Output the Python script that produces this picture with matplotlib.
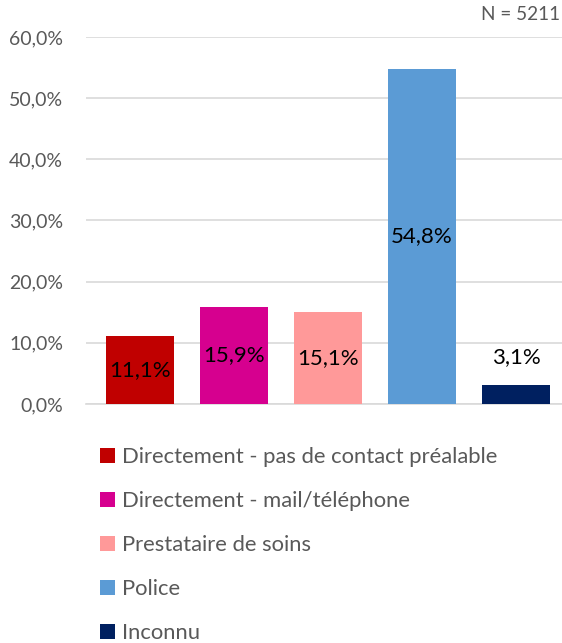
import matplotlib
matplotlib.use("Agg")
import matplotlib.pyplot as plt
import matplotlib.ticker as mticker
from matplotlib.patches import Patch

categories = [
    "Directement - pas de contact préalable",
    "Directement - mail/téléphone",
    "Prestataire de soins",
    "Police",
    "Inconnu",
]
values = [11.1, 15.9, 15.1, 54.8, 3.1]
colors = ["#C00000", "#D6008F", "#FF9999", "#5B9BD5", "#002060"]
value_labels = ["11,1%", "15,9%", "15,1%", "54,8%", "3,1%"]

plt.rcParams["font.family"] = ["Lato", "DejaVu Sans"]
TXT = "#595959"
GRID = "#D9D9D9"

fig = plt.figure(figsize=(5.62, 6.43), dpi=100)
ax = fig.add_axes([0.153, 0.3717, 0.847, 0.5708])

xs = list(range(len(values)))
ax.bar(xs, values, width=0.72, color=colors, zorder=3)

# data labels: centred in bar, except the small last one goes above
for i, (v, lab) in enumerate(zip(values, value_labels)):
    if i == len(values) - 1:
        ax.annotate(lab, (i, v), xytext=(0, 20), textcoords="offset points",
                    ha="center", va="center", fontsize=16, color="black")
    else:
        ax.text(i, v / 2, lab, ha="center", va="center",
                fontsize=16, color="black", zorder=4)

ax.set_ylim(0, 60)
ax.set_xlim(-0.574, 4.49)
ax.yaxis.set_major_locator(mticker.MultipleLocator(10))
ax.yaxis.set_major_formatter(mticker.FuncFormatter(lambda y, _: f"{y:.1f}%".replace(".", ",")))
ax.set_xticks([])
ax.tick_params(axis="y", length=0, pad=16.5, labelsize=14, labelcolor=TXT)
ax.grid(axis="y", color=GRID, linewidth=1.2, zorder=0)
for s in ["top", "right", "left"]:
    ax.spines[s].set_visible(False)
ax.spines["bottom"].set_color(GRID)
ax.spines["bottom"].set_linewidth(1.2)

fig.text(0.997, 0.977, "N = 5211", ha="right", va="center", fontsize=13.7, color=TXT)

handles = [Patch(facecolor=c, edgecolor="none") for c in colors]
fig.legend(handles, categories, loc="upper left", bbox_to_anchor=(0.178, 0.305),
           frameon=False, fontsize=15.8, labelcolor=TXT, handlelength=0.68,
           handleheight=0.68, handletextpad=0.32, labelspacing=1.1,
           borderaxespad=0, borderpad=0)

fig.savefig("out.png", dpi=100)
